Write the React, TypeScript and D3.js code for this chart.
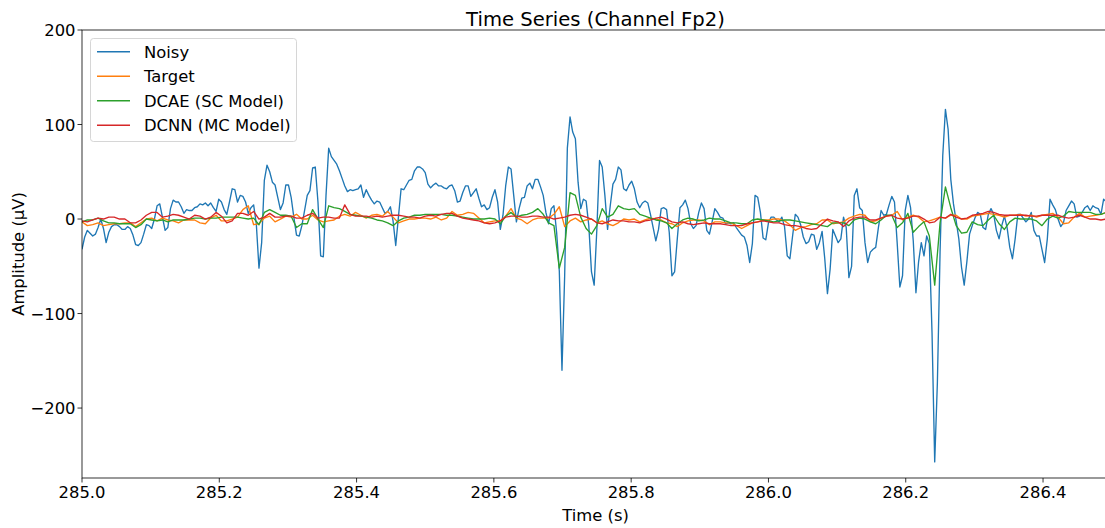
import React from 'react';
import * as d3 from 'd3';

// Recording segment: start time and sample rates of the traces
const T0 = 285.0;
const FS_NOISY = 256;
const FS_MODEL = 128;

// Noisy Fp2 channel (µV), 256 Hz
const noisy = [
  -32, -19, -12, -15, -18, -16, -9, 0, -10, -25,
  -14, -8, -6, -6, -8, -11, -11, -8, -10, -17,
  -27, -28, -25, -16, -6, -7, -10, 0, 14, 16,
  2, -12, -9, 11, 20, 18, 18, 13, 6, 10,
  9, 9, 12, 13, 16, 15, 17, 14, 17, 12,
  8, 21, 18, 10, 5, 18, 32, 31, 18, 25,
  24, 18, 6, 12, 15, -5, -52, -25, 41, 57,
  50, 39, 36, 23, 10, 17, 36, 36, 23, 2,
  -17, -18, -7, 9, 25, 30, 54, 55, 18, -39,
  -40, 25, 75, 66, 62, 58, 51, 43, 35, 29,
  31, 30, 31, 32, 36, 23, 31, 25, 20, 16,
  19, 18, 12, 6, 8, 13, -2, -28, 2, 32,
  31, 36, 41, 42, 51, 55, 55, 53, 49, 37,
  33, 36, 38, 35, 35, 33, 32, 35, 36, 30,
  18, 19, 28, 35, 35, 24, 28, 32, 22, 13,
  15, 10, 12, 23, 31, 18, -11, 4, 35, 55,
  53, 25, -3, 11, 22, 23, 35, 38, 32, 42,
  42, 34, 25, 7, -5, 11, 14, -14, -55, -160,
  -60, 75, 108, 92, 85, 39, 11, 21, 19, -7,
  -56, -70, -11, 62, 55, 25, -11, 14, 37, 42,
  55, 52, 32, 30, 36, 40, 32, 18, 12, 17,
  19, 17, 5, -9, -23, -11, 11, 12, 10, -14,
  -60, -56, -21, 12, 15, 20, 11, -5, -10, -7,
  7, 17, 11, -12, -16, -3, 11, 7, 2, 1,
  -5, -4, -5, -4, -9, -13, -17, -19, -28, -46,
  -26, 25, 23, 7, -20, -22, -4, 2, 2, -1,
  -3, 2, -8, -39, -42, -18, 5, 2, -6, -19,
  -26, -24, -16, -17, -32, -25, -13, -42, -79, -53,
  -11, -18, -25, -21, 2, -9, -62, -50, 25, 32,
  12, 9, -25, -46, -35, -32, -30, -9, 9, 4,
  5, 15, 24, 18, -25, -72, -60, 9, 25, 12,
  -23, -78, -45, -25, -39, -18, -26, -120, -257, -173,
  -35, 67, 116, 95, 42, 16, -2, -21, -51, -70,
  -45, -16, -7, 1, 7, 5, -9, -11, 5, 11,
  5, -12, -21, -7, 3, -9, -30, -42, -21, 5,
  5, 1, -3, 0, 7, -12, -18, -18, -32, -46,
  -21, 21, 15, 10, 0, -8, -4, 9, 14, 19,
  16, 2, 3, 7, 12, 14, 9, 14, 12, 11,
  5, 21, 18, 15,
];

// Clean reference signal (µV), 128 Hz
const target = [
  -3, -7, -6, -4, -7, -6, -5, -5, -4, -4,
  -8, -4, 0, 1, -2, 1, -1, -2, -4, -1,
  -1, -1, -4, -5, 1, 4, -2, -2, 0, 2,
  10, 14, -6, -5, 1, 3, -3, 0, 3, 2,
  5, 0, 0, 4, -1, -3, -2, -1, 3, 5,
  3, 7, 4, 1, 4, 5, 3, 8, 2, -4,
  -2, 0, 0, 1, 1, 0, 2, -1, 1, 8,
  4, 5, 7, 6, 1, -4, -3, -2, -2, 3,
  11, 1, -1, -5, -1, 1, 1, 1, 5, 13,
  -8, -2, 1, -3, -1, 0, -4, -2, -5, -7,
  -4, 0, -1, 0, -3, -1, 1, 0, -1, -4,
  -5, -8, -4, -2, -1, -1, -2, -6, -3, -3,
  -4, -4, -7, -10, -7, -4, -3, -1, -1, 0,
  0, -2, -6, -12, -9, -8, -6, -5, -1, -1,
  -5, -4, -3, 1, 3, 5, 4, -3, -2, 1,
  3, 4, 8, -1, 2, 4, 2, -3, -2, 0,
  2, 1, 4, 4, 0, 0, 3, 4, 5, 6,
  5, 4, 2, 4, 4, 5, 3, 4, 2, 4,
  5, 6, 2, -5, -4, 2, 6, 2, 3, 4,
  5, 7,
];

// Single-channel DCAE reconstruction (µV), 128 Hz
const dcae = [
  -3, -1, -1, 1, -2, -4, -4, -5, -5, -5,
  -9, -6, 0, -1, -2, -1, -3, -1, -1, -1,
  0, 1, 1, 0, 1, 1, 2, 2, 2, 2,
  1, 0, 1, -6, 7, 10, 7, 4, 4, 3,
  -9, -5, -5, 10, 0, -9, 14, 12, 11, 8,
  5, 4, 3, 2, 1, -1, -2, -4, -7, -2,
  1, 2, 4, 4, 5, 5, 5, 5, 4, 4,
  3, 2, 1, 0, 0, 0, 1, 0, -5, 3,
  7, 2, 4, 5, 7, 11, 5, -4, -7, -52,
  -30, 28, 25, 2, -10, -16, -7, 11, 2, 5,
  14, 11, 10, 11, 5, 3, 1, -1, -2, -4,
  -10, -5, -1, 1, 0, -2, -1, 1, 0, 0,
  -2, -4, -4, -5, -5, -1, 0, -1, -2, -3,
  -2, -1, -1, -2, -3, -4, -5, -6, -7, -8,
  -4, -4, -4, -7, -1, 1, 0, -3, -5, -1,
  4, 4, -9, -4, 6, -14, -8, -3, -18, -70,
  -4, 34, 12, -7, -15, -14, -3, -6, -7, -1,
  4, -5, -11, -3, 1, 0, 0, 0, -2, -7,
  0, 3, 1, 3, 8, 7, 7, 7, 7, 5,
  5, 7,
];

// Multi-channel DCNN reconstruction (µV), 128 Hz
const dcnn = [
  -2, -3, -1, 1, 0, 2, 2, 0, 0, -4,
  -4, -1, 4, 7, 7, 2, 3, 5, 4, 2,
  0, 4, 3, 0, 2, 7, 3, -4, -2, 6,
  6, 4, 8, 0, 2, 6, 2, 2, 3, 3,
  1, 1, 4, 6, 1, 2, 2, 1, 1, 15,
  5, 3, 3, 3, 2, 3, 2, 3, 4, 4,
  3, 2, 2, 1, 3, 4, 3, 5, 6, 6,
  3, 1, 0, -1, -2, -4, -5, -4, -2, 2,
  3, 3, 2, 2, 3, 3, 2, 2, 0, 1,
  2, 4, 5, 4, 2, 0, -4, -5, -3, -1,
  -2, -2, -3, -3, -4, -2, -1, 1, 2, 0,
  -3, -4, -3, -5, -6, -5, -4, -5, -5, -5,
  -6, -7, -7, -7, -5, -4, -3, -2, -3, -4,
  -4, -6, -7, -7, -8, -10, -11, -10, -5, 0,
  -2, -3, -8, -2, 1, 2, 2, -1, -1, 1,
  3, 4, 1, 0, 1, 3, 3, 0, -4, -3,
  2, 1, 5, 2, 0, 1, 4, 5, 6, 8,
  7, 5, 4, 4, 4, 4, 4, 3, 3, 4,
  4, 4, 4, 2, 1, 2, 4, 2, 0, 0,
  -1, 0,
];

const xTicks = [285.0, 285.2, 285.4, 285.6, 285.8, 286.0, 286.2, 286.4];
const yTicks = [200, 100, 0, -100, -200];

const seriesNames = ['Noisy', 'Target', 'DCAE (SC Model)', 'DCNN (MC Model)'];
const seriesColors = ['#1f77b4', '#ff7f0e', '#2ca02c', '#d62728'];

const WIDTH = 1105;
const HEIGHT = 528;
const FONT = '"DejaVu Sans", Verdana, sans-serif';
const LABEL_SIZE = 16.4;
const TITLE_SIZE = 19.6;

const plot = { left: 82, top: 30, right: 1109, bottom: 478 };

export default function App() {
  const tEnd = T0 + (noisy.length - 1) / FS_NOISY;
  const x = d3.scaleLinear().domain([T0, tEnd]).range([plot.left, plot.right]);
  const y = d3.scaleLinear().domain([-274, 200]).range([plot.bottom, plot.top]);

  const series = [
    { values: noisy, fs: FS_NOISY },
    { values: target, fs: FS_MODEL },
    { values: dcae, fs: FS_MODEL },
    { values: dcnn, fs: FS_MODEL },
  ];

  const makePath = (values: number[], fs: number) =>
    d3
      .line<number>()
      .x((_, i) => x(T0 + i / fs))
      .y((v) => y(v))(values) || '';

  const fmtX = d3.format('.1f');
  const fmtY = (v: number) => d3.format('d')(v).replace('-', '\u2212');

  const legend = { x: 90.5, y: 38.5, w: 206, h: 103, row: 24.5 };

  return (
    <svg
      width={WIDTH}
      height={HEIGHT}
      style={{ position: 'absolute', left: 0, top: 0, background: '#fff' }}
      fontFamily={FONT}
    >
      <defs>
        <clipPath id="plot-area">
          <rect
            x={plot.left}
            y={plot.top}
            width={plot.right - plot.left}
            height={plot.bottom - plot.top}
          />
        </clipPath>
      </defs>
      <rect width={WIDTH} height={HEIGHT} fill="#fff" />

      <g clipPath="url(#plot-area)">
        {series.map((s, k) => (
          <path
            key={seriesNames[k]}
            d={makePath(s.values, s.fs)}
            fill="none"
            stroke={seriesColors[k]}
            strokeWidth={1.35}
            strokeLinejoin="round"
          />
        ))}
      </g>

      {/* axes frame */}
      <rect
        x={plot.left}
        y={plot.top}
        width={plot.right - plot.left}
        height={plot.bottom - plot.top}
        fill="none"
        stroke="#000"
        strokeWidth={0.8}
      />

      {/* x axis */}
      {xTicks.map((t) => (
        <g key={'x' + t}>
          <line x1={x(t)} x2={x(t)} y1={plot.bottom} y2={plot.bottom + 4.5} stroke="#000" strokeWidth={0.8} />
          <text x={x(t)} y={498} textAnchor="middle" fontSize={LABEL_SIZE} fill="#000">
            {fmtX(t)}
          </text>
        </g>
      ))}
      <text x={(plot.left + plot.right) / 2} y={521} textAnchor="middle" fontSize={LABEL_SIZE} fill="#000">
        Time (s)
      </text>

      {/* y axis */}
      {yTicks.map((v) => (
        <g key={'y' + v}>
          <line x1={plot.left - 4.5} x2={plot.left} y1={y(v)} y2={y(v)} stroke="#000" strokeWidth={0.8} />
          <text x={75.5} y={y(v) + 6} textAnchor="end" fontSize={LABEL_SIZE} fill="#000">
            {fmtY(v)}
          </text>
        </g>
      ))}
      <text
        transform={`translate(24, ${(plot.top + plot.bottom) / 2}) rotate(-90)`}
        textAnchor="middle"
        fontSize={LABEL_SIZE}
        fill="#000"
      >
        Amplitude (µV)
      </text>

      {/* title */}
      <text x={(plot.left + plot.right) / 2} y={25.5} textAnchor="middle" fontSize={TITLE_SIZE} fill="#000">
        Time Series (Channel Fp2)
      </text>

      {/* legend */}
      <g>
        <rect
          x={legend.x}
          y={legend.y}
          width={legend.w}
          height={legend.h}
          rx={3}
          fill="#fff"
          fillOpacity={0.8}
          stroke="#cccccc"
          strokeWidth={0.8}
        />
        {seriesNames.map((name, k) => {
          const cy = legend.y + 13.2 + k * legend.row;
          return (
            <g key={name}>
              <line x1={97} x2={130} y1={cy} y2={cy} stroke={seriesColors[k]} strokeWidth={1.35} />
              <text x={144} y={cy + 6} fontSize={LABEL_SIZE} fill="#000">
                {name}
              </text>
            </g>
          );
        })}
      </g>
    </svg>
  );
}
